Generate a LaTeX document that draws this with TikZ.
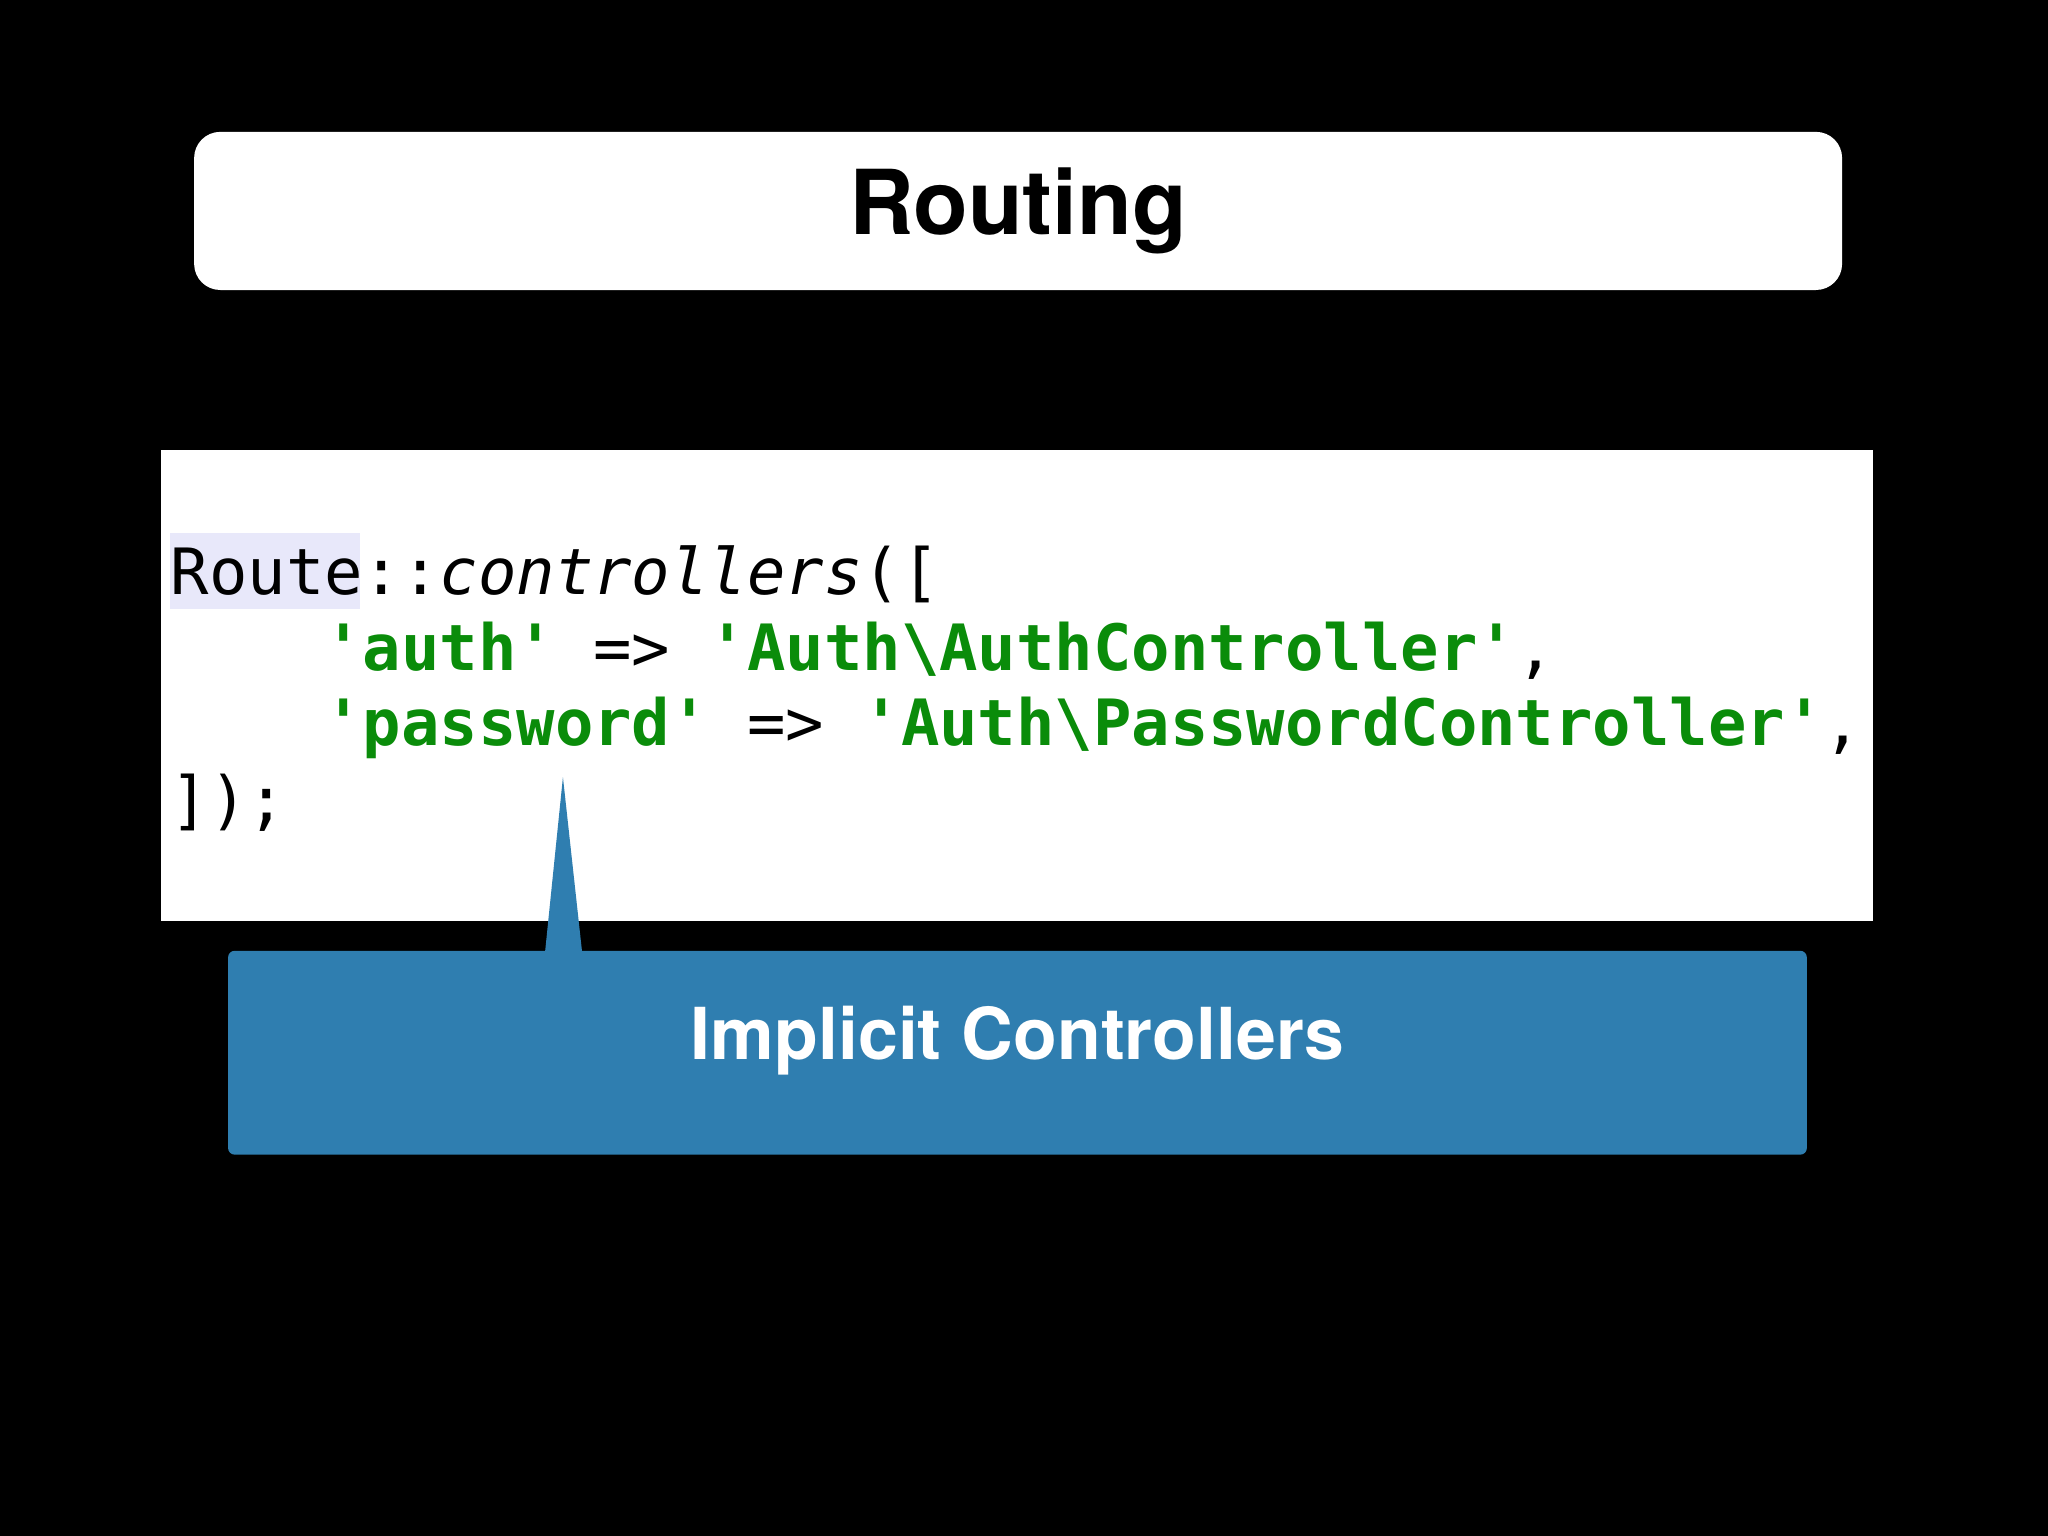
\documentclass[tikz,border=0pt]{standalone}
\usepackage{fontspec}
\setmainfont{TeX Gyre Heros}
\setmonofont{DejaVu Sans Mono}
\definecolor{codegreen}{RGB}{10,140,10}
\definecolor{callblue}{RGB}{47,126,176}
\definecolor{hl}{RGB}{232,232,250}
\begin{document}
\begin{tikzpicture}[x=0.01cm,y=-0.01cm,
  code/.style={anchor=base west,inner sep=0pt,font=\fontsize{13.9pt}{16pt}\ttfamily}]
\fill[black] (0,0) rectangle (1568,1176);
\useasboundingbox (0,0) rectangle (1568,1176);
\node[fill=white,rounded corners=0.2cm,minimum width=12.61cm,minimum height=1.21cm,inner sep=0pt] (title) at (779.5,161.5) {};
\node[font=\fontsize{19.5pt}{22pt}\bfseries] (tt) at (title) {Routing};
\node[fill=white,minimum width=13.1cm,minimum height=3.6cm,inner sep=0pt] (codebox) at (779,525) {};
\fill[hl] (130,408) rectangle (276,466);
\node[code] (l1) at (130,455) {Route::\textit{controllers}([};
\node[code] (l2) at (130,513) {\ \ \ \ \textcolor{codegreen}{\bfseries 'auth'} => \textcolor{codegreen}{\bfseries 'Auth\textbackslash AuthController'},};
\node[code] (l3) at (130,571) {\ \ \ \ \textcolor{codegreen}{\bfseries 'password'} => \textcolor{codegreen}{\bfseries 'Auth\textbackslash PasswordController'},};
\node[code] (l4) at (130,630) {]);};
\node[fill=callblue,rounded corners=0.05cm,minimum width=12.08cm,minimum height=1.56cm,inner sep=0pt] (call) at (779,806) {};
\coordinate (tip) at (431,595);
\fill[callblue] (tip) -- (446,732) -- (417,732) -- cycle;
\node[text=white,font=\fontsize{15.6pt}{18pt}\bfseries] (ct) at (779,797) {Implicit Controllers};
\end{tikzpicture}
\end{document}
